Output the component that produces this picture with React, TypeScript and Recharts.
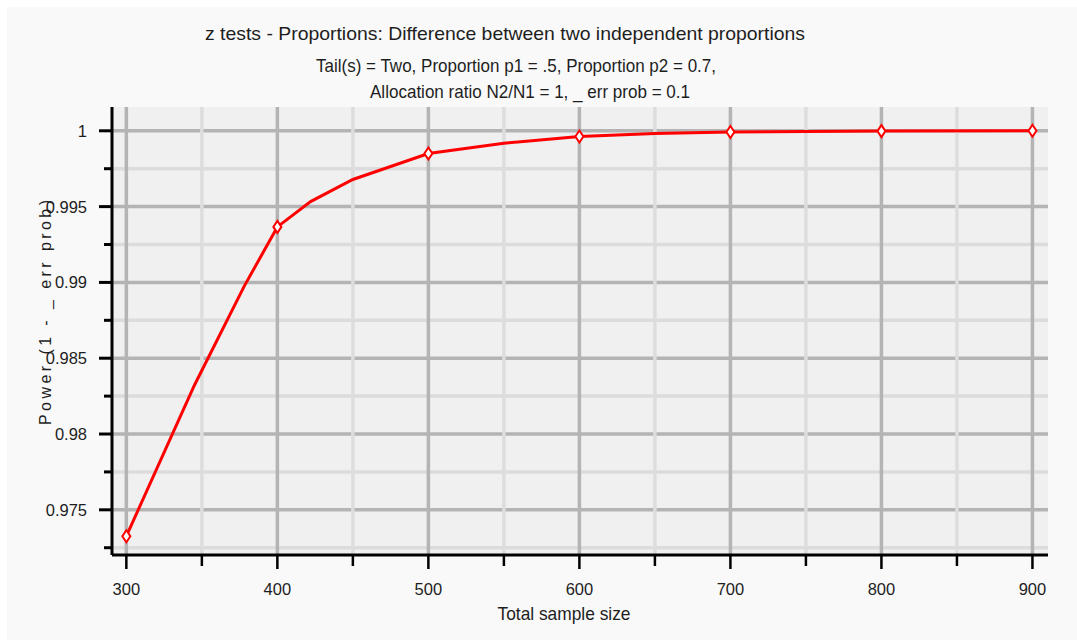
import { LineChart, Line, XAxis, YAxis, ReferenceLine, CartesianGrid } from 'recharts'

// total sample size (x) and computed power (y)
const sampleSizes = [300, 345, 378, 400, 422, 450, 500, 550, 600, 650, 700, 800, 900]
const powerValues = [
  0.97326, 0.9832, 0.98974, 0.99366, 0.99533, 0.99679, 0.9985, 0.99918, 0.99962, 0.99982,
  0.99992, 0.99998, 1.0,
]
// only these sizes carry a diamond marker
const markedSizes = [300, 400, 500, 600, 700, 800, 900]

const xMajorTicks = [300, 400, 500, 600, 700, 800, 900]
const xMinorTicks = [350, 450, 550, 650, 750, 850]
const yMajorTicks = [0.975, 0.98, 0.985, 0.99, 0.995, 1]
const yMinorTicks = [0.9725, 0.9775, 0.9825, 0.9875, 0.9925, 0.9975]

const data = sampleSizes.map((n, i) => ({ n, power: powerValues[i] }))

const FONT = '"Liberation Sans", Arial, sans-serif'
const INK = '#1e1e1e'

function XTick({ x, y, payload }: any) {
  const major = xMajorTicks.includes(payload.value)
  return (
    <g>
      <line x1={x} y1={y} x2={x} y2={y + (major ? 14 : 11)} stroke="#000" strokeWidth={2.5} />
      {major && (
        <text x={x} y={y + 40} textAnchor="middle" fontSize={16.5} fontFamily={FONT} fill={INK}>
          {payload.value}
        </text>
      )}
    </g>
  )
}

function YTick({ x, y, payload }: any) {
  const major = yMajorTicks.includes(payload.value)
  return (
    <g>
      <line x1={x - (major ? 13 : 8)} y1={y} x2={x} y2={y} stroke="#000" strokeWidth={3} />
      {major && (
        <text x={x - 25} y={y} dy="0.36em" textAnchor="end" fontSize={16.5} fontFamily={FONT} fill={INK}>
          {String(payload.value)}
        </text>
      )}
    </g>
  )
}

function Diamond(props: any) {
  const { cx, cy, payload, index } = props
  if (!markedSizes.includes(payload.n)) return <g key={index} />
  return (
    <polygon
      key={index}
      points={`${cx},${cy - 6} ${cx + 4},${cy} ${cx},${cy + 6} ${cx - 4},${cy}`}
      fill="#fff"
      stroke="#ff0000"
      strokeWidth={2}
    />
  )
}

export default function App() {
  return (
    <div
      style={{
        position: 'fixed',
        left: 7,
        top: 7,
        width: 1070,
        height: 633,
        background: '#f9f9f9',
      }}
    >
      <LineChart width={1070} height={633} data={data} margin={{ top: 100, right: 29, bottom: 45, left: 5 }}>
        <CartesianGrid horizontal={false} vertical={false} fill="#f0f0f0" stroke="none" />
        {yMinorTicks.map((v) => (
          <ReferenceLine key={'ym' + v} y={v} stroke="#dcdcdc" strokeWidth={3.5} />
        ))}
        {yMajorTicks.map((v) => (
          <ReferenceLine key={'yM' + v} y={v} stroke="#b4b4b4" strokeWidth={3.5} />
        ))}
        {xMinorTicks.map((v) => (
          <ReferenceLine key={'xm' + v} x={v} stroke="#dddddd" strokeWidth={3.5} />
        ))}
        {xMajorTicks.map((v) => (
          <ReferenceLine key={'xM' + v} x={v} stroke="#b4b4b4" strokeWidth={3.5} />
        ))}
        <XAxis
          dataKey="n"
          type="number"
          domain={[290.5, 910.3]}
          allowDataOverflow
          ticks={[...xMajorTicks, ...xMinorTicks].sort((a, b) => a - b)}
          interval={0}
          tick={<XTick />}
          tickLine={false}
          tickSize={0}
          tickMargin={0}
          axisLine={{ stroke: '#000', strokeWidth: 3 }}
          height={40}
        />
        <YAxis
          type="number"
          domain={[0.97202, 1.00157]}
          allowDataOverflow
          ticks={[...yMinorTicks, ...yMajorTicks].sort((a, b) => a - b)}
          interval={0}
          tick={<YTick />}
          tickLine={false}
          tickSize={0}
          tickMargin={0}
          axisLine={{ stroke: '#000', strokeWidth: 3 }}
          width={100}
        />
        <Line
          dataKey="power"
          stroke="#ff0000"
          strokeWidth={3}
          dot={Diamond}
          activeDot={false}
          isAnimationActive={false}
        />
      </LineChart>
      <svg
        width={1070}
        height={633}
        style={{ position: 'absolute', left: 0, top: 0, pointerEvents: 'none' }}
        fontFamily={FONT}
        fill={INK}
      >
        <text x={498} y={33} textAnchor="middle" fontSize={18.5} textLength={600} lengthAdjust="spacingAndGlyphs">
          z tests - Proportions: Difference between two independent proportions
        </text>
        <text x={509} y={64.5} textAnchor="middle" fontSize={18.5} textLength={400} lengthAdjust="spacingAndGlyphs">
          Tail(s) = Two, Proportion p1 = .5, Proportion p2 = 0.7,
        </text>
        <text x={523} y={91} textAnchor="middle" fontSize={18.5} textLength={320} lengthAdjust="spacingAndGlyphs">
          Allocation ratio N2/N1 = 1, _ err prob = 0.1
        </text>
        <text x={557} y={613} textAnchor="middle" fontSize={19} textLength={133} lengthAdjust="spacingAndGlyphs">
          Total sample size
        </text>
        <text
          x={38}
          y={305.5}
          textAnchor="middle"
          dy="0.35em"
          fontSize={16}
          textLength={225}
          lengthAdjust="spacing"
          transform="rotate(-90 38 305.5)"
        >
          Power (1 - _ err prob)
        </text>
      </svg>
    </div>
  )
}
